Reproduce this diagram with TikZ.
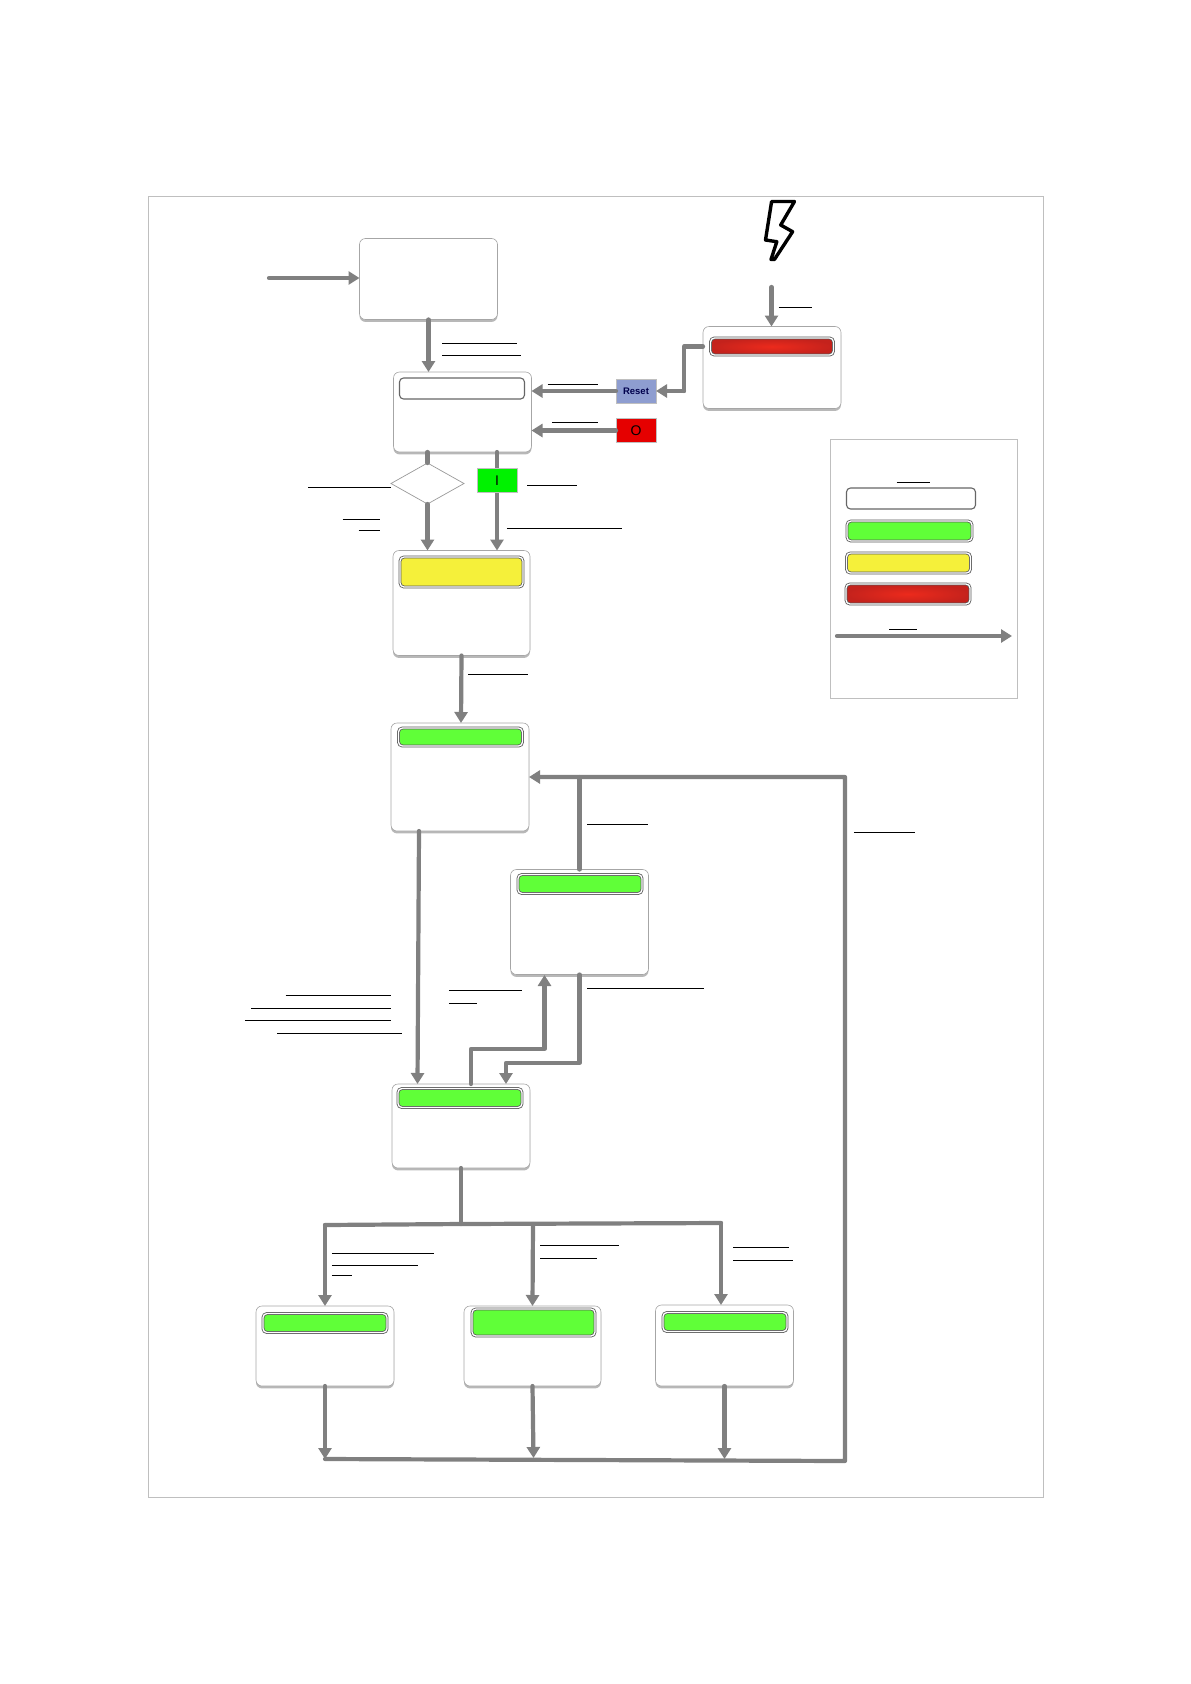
\documentclass[tikz,border=0pt]{standalone}
\usepackage{fontspec}
\setmainfont{Liberation Sans}
\usetikzlibrary{arrows.meta,shapes.geometric,shadows}
\definecolor{flowgray}{HTML}{808080}
\definecolor{stategreen}{HTML}{60FF38}
\definecolor{stateyellow}{HTML}{F5F03A}
\definecolor{statered}{HTML}{EC2A1C}
\definecolor{statedark}{HTML}{C4221C}
\definecolor{resetblue}{HTML}{8E9DD0}
\begin{document}
\begin{tikzpicture}[
        x=1pt, y=-1pt,
        box/.style={draw=black!35, fill=white, rounded corners=6pt, line width=0.6pt, inner sep=0pt, outer sep=0pt,
            drop shadow={shadow xshift=0pt, shadow yshift=-2.4pt, fill=black!28, opacity=1}},
        head/.style={draw=black!65, double=white, double distance=1.3pt, line width=0.8pt, rounded corners=4pt, inner sep=0pt, outer sep=0pt},
        greenhead/.style={head, fill=stategreen},
        yellowhead/.style={head, fill=stateyellow},
        redhead/.style={head, inner color=statered, outer color=statedark},
        whitehead/.style={draw=black!60, line width=1.1pt, fill=white, rounded corners=4pt, inner sep=0pt, outer sep=0pt},
        btn/.style={minimum width=40pt, minimum height=24pt, inner sep=0pt, outer sep=0pt, draw=black!25, line width=0.5pt, font=\fontsize{14}{14}\selectfont},
        flow/.style={->, >={Triangle[length=11pt,width=13pt]}, line width=4.2pt, flowgray, line cap=round, line join=round},
        link/.style={line width=4.2pt, flowgray, line cap=round, line join=round},
        mark line/.style={line width=0.9pt, black}
    ]
        \useasboundingbox (0,0) rectangle (1191,1684);
        \node[draw=black!25, line width=0.8pt, minimum width=895pt, minimum height=1301pt, inner sep=0pt] (page) at (595.5,846.5) {};

        % === Boxes ===
        \node[box, minimum width=138pt, minimum height=81pt] (start) at (428.5,279) {};
        \node[box, minimum width=138pt, minimum height=80pt] (ready) at (462.5,412) {};
        \node[box, minimum width=138pt, minimum height=82pt] (fault) at (772,367.5) {};
        \node[box, minimum width=137pt, minimum height=105pt] (warn) at (461.5,603) {};
        \node[box, minimum width=138pt, minimum height=108pt] (runA) at (460,777) {};
        \node[box, minimum width=138pt, minimum height=105pt] (runB) at (579.5,922) {};
        \node[box, minimum width=138pt, minimum height=84pt] (runC) at (461,1126) {};
        \node[box, minimum width=138pt, minimum height=80pt] (endA) at (325,1346) {};
        \node[box, minimum width=137pt, minimum height=80pt] (endB) at (532.5,1346) {};
        \node[box, minimum width=138pt, minimum height=81pt] (endC) at (724.5,1345.5) {};

        % === Headers ===
        \node[whitehead, minimum width=125pt, minimum height=21pt] (readyhead) at (462,388.5) {};
        \node[redhead, minimum width=123pt, minimum height=17pt] (faulthead) at (772,346.5) {};
        \node[yellowhead, minimum width=123pt, minimum height=30pt] (warnhead) at (461.5,572) {};
        \node[greenhead, minimum width=124pt, minimum height=18pt] (runAhead) at (460.5,737) {};
        \node[greenhead, minimum width=124pt, minimum height=19pt] (runBhead) at (580,884) {};
        \node[greenhead, minimum width=124pt, minimum height=19pt] (runChead) at (460,1098) {};
        \node[greenhead, minimum width=124pt, minimum height=19pt] (endAhead) at (325,1323) {};
        \node[greenhead, minimum width=123pt, minimum height=27pt] (endBhead) at (533.5,1322.5) {};
        \node[greenhead, minimum width=124pt, minimum height=19pt] (endChead) at (725,1322) {};

        % === Buttons and check ===
        \node[diamond, draw=black!40, fill=white, line width=0.7pt, minimum width=73pt, minimum height=41pt, inner sep=0pt, outer sep=0pt] (check) at (427.5,483.5) {};
        \node[btn, fill=resetblue, text=blue!30!black, font=\fontsize{9.5}{10}\selectfont\bfseries] (reset) at (636,391) {Reset};
        \node[btn, fill=red!90!black] (off) at (636,430.5) {O};
        \coordinate (laneI) at (497,480.5);

        % === Connectors ===
        \coordinate (entry) at (269,278);
        \draw[flow] (entry) -- (entry -| start.west);
        \draw[flow] (start.south) -- (start.south |- ready.north);
        \coordinate (strike) at (771.5,287);
        \draw[flow] (strike) -- (strike |- fault.north);
        \draw[link] (fault.west |- faulthead.west) -- (684,346.5) -- (684,391);
        \draw[flow] (684,391) -- (reset.east);
        \draw[flow] (reset.west) -- (reset.west -| ready.east);
        \draw[flow] (off.west) -- (off.west -| ready.east);
        \draw[link] (check.north |- ready.south) -- (check.north);
        \draw[flow] (check.south) -- (check.south |- warn.north);
        \draw[flow] (laneI |- ready.south) -- (laneI |- warn.north);
        \node[btn, fill=green!95!black] (on) at (laneI) {I};
        \draw[flow] (warn.south) -- ([xshift=1pt]runA.north);
        \draw[flow] ([xshift=-41pt]runA.south) -- ([xshift=-43.5pt]runC.north);

        \coordinate (uplink) at (471,1049);
        \draw[flow] (uplink |- runC.north) -- (uplink) -- (544.5,1049) -- (544.5,975);
        \draw[flow] (runB.south) -- (579.5,1063) -- (506,1063) -- (506,1084);
        \draw[link] (runB.north) -- (runB.north |- 0,777);

        \coordinate (split) at (461,1224);
        \draw[link] (runC.south) -- (split);
        \draw[flow] (325,1225) -- (endA.north);
        \draw[flow] (533,1224) -- (endB.north);
        \draw[flow] (721,1223) -- (721,1305);
        \draw[link] (325,1225) -- (split) -- (721,1223);

        \coordinate (backL) at (325,1459);
        \coordinate (backR) at (845,1461);
        \draw[flow] (endA.south) -- (backL);
        \draw[flow] (endB.south) -- (533.5,1458);
        \draw[flow] (endC.south) -- (724.5,1459);
        \draw[flow] (backL) -- (backR) -- (845,777) -- (runA.east);

        % === Bolt ===
        \draw[line width=3.4pt, black, fill=white, line join=round]
            (771.6,201.5) -- (794.5,201.5) -- (780.7,225) -- (792.6,231.7) -- (774.4,259.5)
            -- (771,259.5) -- (776.8,241.7) -- (765.5,240) -- cycle;

        % === Legend ===
        \node[draw=black!25, fill=white, line width=0.8pt, minimum width=187pt, minimum height=259pt, inner sep=0pt] (legend) at (923.5,568.5) {};
        \node[whitehead, minimum width=129pt, minimum height=21pt] (keyW) at (911,498.5) {};
        \node[greenhead, minimum width=125pt, minimum height=20pt] (keyG) at (909.5,531) {};
        \node[yellowhead, minimum width=124pt, minimum height=20pt] (keyY) at (908.5,563) {};
        \node[redhead, minimum width=124pt, minimum height=20pt] (keyR) at (908,594) {};
        \coordinate (keyfrom) at (837,636);
        \coordinate (keyto) at (1012,636);
        \draw[flow] (keyfrom) -- (keyto);

        % === Underlines ===
        \begin{scope}[x=1.0739pt, y=-1.0739pt]
        \foreach \xa/\xb/\yy in {412/481/320, 412/485/331, 510/557/358, 514/557/393, 491/537/452, 287/364/454,
            319/354/484, 334/354/494, 472/579/492, 436/492/628, 547/603/768, 795/852/775,
            266/364/927, 234/364/939, 228/364/950, 258/374/962, 418/486/922, 418/444/934,
            547/656/920, 309/404/1167, 309/389/1178, 309/328/1188, 503/576/1160, 503/556/1172,
            683/735/1162, 683/738/1174, 835/866/449, 828/854/586, 725/756/286}
            \draw[mark line] (\xa,\yy) -- (\xb,\yy);
        \end{scope}
    \end{tikzpicture}
\end{document}
